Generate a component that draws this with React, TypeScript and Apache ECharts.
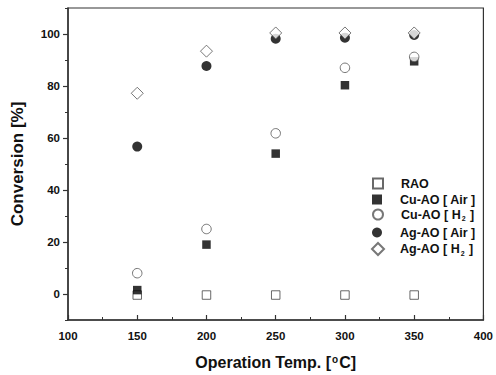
import React, { useEffect, useRef } from "react";
import * as echarts from "echarts";

const temperatures = [150, 200, 250, 300, 350];
const raoValues = [-0.4, -0.4, -0.4, -0.4, -0.4];
const cuAirValues = [1.5, 19, 54, 80.3, 89.5];
const cuH2Values = [8, 25, 61.8, 87, 91.2];
const agAirValues = [56.7, 87.7, 98.2, 98.6, 99.6];
const agH2Values = [77.2, 93.4, 100.4, 100.4, 100.4];

const seriesNames = ["RAO", "Cu-AO [ Air ]", "Cu-AO [ H2 ]", "Ag-AO [ Air ]", "Ag-AO [ H2 ]"];
const xTickLabels = [100, 150, 200, 250, 300, 350, 400];
const yTickLabels = [0, 20, 40, 60, 80, 100];
const yMinorTicks = [-10, 10, 30, 50, 70, 90, 110];

const FONT = "'Liberation Sans', Arial, sans-serif";

function legendText(n: string): string {
  const k = n.indexOf("H2");
  if (k < 0) return "{f|" + n + "}";
  return "{f|" + n.slice(0, k + 1) + "}{sub|2}{t|" + n.slice(k + 2) + "}";
}

export default function App() {
  const ref = useRef<HTMLDivElement>(null);
  useEffect(() => {
    if (!ref.current) return;
    const chart = echarts.init(ref.current, null, { renderer: "svg" });
    const values = [raoValues, cuAirValues, cuH2Values, agAirValues, agH2Values];
    const styles = [
      { symbol: "rect", size: 8.5, itemStyle: { color: "#fff", borderColor: "#444", borderWidth: 1 } },
      { symbol: "rect", size: 8.5, itemStyle: { color: "#000", borderColor: "#000", borderWidth: 0 } },
      { symbol: "circle", size: 9.5, itemStyle: { color: "#fff", borderColor: "#555", borderWidth: 1 } },
      { symbol: "circle", size: 10, itemStyle: { color: "#000", borderColor: "#000", borderWidth: 0 } },
      { symbol: "diamond", size: 12, itemStyle: { color: "#fff", borderColor: "#555", borderWidth: 1 } },
    ];
    const series = seriesNames.map((name, i) => ({
      name,
      type: "scatter",
      xAxisIndex: 0,
      yAxisIndex: 0,
      symbol: styles[i].symbol,
      symbolSize: styles[i].size,
      itemStyle: styles[i].itemStyle,
      data: temperatures.map((t, j) => [t, values[i][j]]),
      z: 2 + i,
    }));
    const legendTops = [183, 199, 214, 232, 248];
    const legends = seriesNames.map((name, i) => {
      const pad = i === 4 ? 11 : 13;
      return {
        show: true,
        data: [name],
        left: i === 4 ? 371 : 372,
        top: legendTops[i] - 6,
        orient: "vertical",
        itemWidth: i === 4 ? 12 : 10,
        itemHeight: i === 4 ? 12 : 10,
        selectedMode: false,
        padding: 0,
        formatter: legendText,
        textStyle: {
          rich: {
            f: { fontFamily: FONT, fontWeight: "bold", fontSize: 12.5, color: "#111", padding: [0, 0, 0, pad] },
            t: { fontFamily: FONT, fontWeight: "bold", fontSize: 12.5, color: "#111" },
            sub: { fontFamily: FONT, fontWeight: "bold", fontSize: 7, color: "#111", verticalAlign: "bottom", padding: [8, 1, 0, 1] },
          },
        },
      };
    });
    chart.setOption({
      animation: false,
      backgroundColor: "#fff",
      grid: { left: 68, right: 9, top: 8, bottom: 54, show: true, borderColor: "#333", borderWidth: 1.2, containLabel: false },
      legend: legends,
      xAxis: [
        {
          type: "value",
          min: 100,
          max: 400,
          interval: 50,
          name: "Operation Temp. [{sup|o}C]",
          nameLocation: "middle",
          nameGap: 34,
          nameTextStyle: {
            fontFamily: FONT,
            fontWeight: "bold",
            fontSize: 16,
            color: "#111",
            rich: {
              sup: { fontFamily: FONT, fontWeight: "bold", fontSize: 10, color: "#111", verticalAlign: "top", padding: [0, 1, 6, 1] },
            },
          },
          axisLine: { show: true, onZero: false, lineStyle: { color: "#333", width: 1.5 } },
          axisTick: { show: true, inside: true, length: 5, lineStyle: { color: "#333", width: 1.2 } },
          minorTick: { show: true, splitNumber: 2, length: 3, lineStyle: { color: "#333", width: 1 } },
          splitLine: { show: false },
          axisLabel: {
            fontFamily: FONT,
            fontWeight: "bold",
            fontSize: 11.5,
            color: "#111",
            margin: 10,
            customValues: xTickLabels,
          },
        },
      ],
      yAxis: [
        {
          type: "value",
          min: -10,
          max: 110,
          name: "Conversion [%]",
          nameLocation: "middle",
          nameGap: 42,
          nameTextStyle: { fontFamily: FONT, fontWeight: "bold", fontSize: 17, color: "#111" },
          axisLine: { show: true, onZero: false, lineStyle: { color: "#333", width: 1.5 } },
          axisTick: { show: true, inside: false, length: 5, customValues: yTickLabels, lineStyle: { color: "#333", width: 1.2 } },
          splitLine: { show: false },
          axisLabel: {
            fontFamily: FONT,
            fontWeight: "bold",
            fontSize: 11.5,
            color: "#111",
            margin: 8,
            customValues: yTickLabels,
          },
        },
        {
          type: "value",
          min: -10,
          max: 110,
          position: "left",
          axisLine: { show: false, onZero: false },
          axisTick: { show: true, inside: false, length: 3, customValues: yMinorTicks, lineStyle: { color: "#333", width: 1 } },
          axisLabel: { show: false },
          splitLine: { show: false },
        },
      ],
      series,
    });
    return () => chart.dispose();
  }, []);
  return <div ref={ref} style={{ width: 496, height: 375, position: "absolute", left: 0, top: 0 }} />;
}
